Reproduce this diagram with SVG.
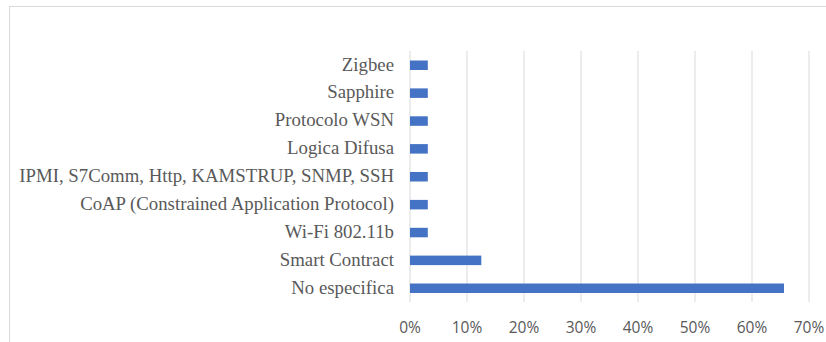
<svg xmlns="http://www.w3.org/2000/svg" width="826" height="342" viewBox="0 0 826 342">
  <style>
    .frame { fill: #ffffff; stroke: #d9d9d9; stroke-width: 1; }
    .grid { stroke: #d9d9d9; stroke-width: 1; }
    .bar { fill: #4472c4; }
    .cat { font-family: "Liberation Serif", "Times New Roman", serif; font-size: 18.8px; fill: #595959; text-anchor: end; }
    .tick { font-family: "Open Sans", "Liberation Sans", sans-serif; font-size: 15.5px; fill: #595959; text-anchor: middle; }
  </style>

  <!-- chart area -->
  <rect class="frame" x="9.5" y="6.5" width="900" height="400"/>

  <!-- vertical gridlines, 10% steps -->
  <g id="gridlines">
    <line class="grid" x1="410" y1="51" x2="410" y2="302"/>
    <line class="grid" x1="467" y1="51" x2="467" y2="302"/>
    <line class="grid" x1="524" y1="51" x2="524" y2="302"/>
    <line class="grid" x1="581" y1="51" x2="581" y2="302"/>
    <line class="grid" x1="638" y1="51" x2="638" y2="302"/>
    <line class="grid" x1="695" y1="51" x2="695" y2="302"/>
    <line class="grid" x1="752" y1="51" x2="752" y2="302"/>
    <line class="grid" x1="809" y1="51" x2="809" y2="302"/>
  </g>

  <!-- bars with their category labels -->
  <g id="zigbee">
    <rect class="bar" x="410" y="60.5" width="17.8" height="9.5"/>
    <text class="cat" x="394" y="70.5">Zigbee</text>
  </g>
  <g id="sapphire">
    <rect class="bar" x="410" y="88.4" width="17.8" height="9.5"/>
    <text class="cat" x="394" y="98.4">Sapphire</text>
  </g>
  <g id="protocolo-wsn">
    <rect class="bar" x="410" y="116.3" width="17.8" height="9.5"/>
    <text class="cat" x="394" y="126.3">Protocolo WSN</text>
  </g>
  <g id="logica-difusa">
    <rect class="bar" x="410" y="144.1" width="17.8" height="9.5"/>
    <text class="cat" x="394" y="154.1">Logica Difusa</text>
  </g>
  <g id="ipmi">
    <rect class="bar" x="410" y="172" width="17.8" height="9.5"/>
    <text class="cat" x="394" y="182">IPMI, S7Comm, Http, KAMSTRUP, SNMP, SSH</text>
  </g>
  <g id="coap">
    <rect class="bar" x="410" y="199.9" width="17.8" height="9.5"/>
    <text class="cat" x="394" y="209.9">CoAP (Constrained Application Protocol)</text>
  </g>
  <g id="wifi">
    <rect class="bar" x="410" y="227.8" width="17.8" height="9.5"/>
    <text class="cat" x="394" y="237.8">Wi-Fi 802.11b</text>
  </g>
  <g id="smart-contract">
    <rect class="bar" x="410" y="255.6" width="71.3" height="9.5"/>
    <text class="cat" x="394" y="265.6">Smart Contract</text>
  </g>
  <g id="no-especifica">
    <rect class="bar" x="410" y="283.5" width="374" height="9.5"/>
    <text class="cat" x="394" y="293.5">No especifica</text>
  </g>

  <!-- horizontal axis labels -->
  <g id="axis">
    <text class="tick" x="410" y="332.5">0%</text>
    <text class="tick" x="467" y="332.5">10%</text>
    <text class="tick" x="524" y="332.5">20%</text>
    <text class="tick" x="581" y="332.5">30%</text>
    <text class="tick" x="638" y="332.5">40%</text>
    <text class="tick" x="695" y="332.5">50%</text>
    <text class="tick" x="752" y="332.5">60%</text>
    <text class="tick" x="809" y="332.5">70%</text>
  </g>
</svg>
